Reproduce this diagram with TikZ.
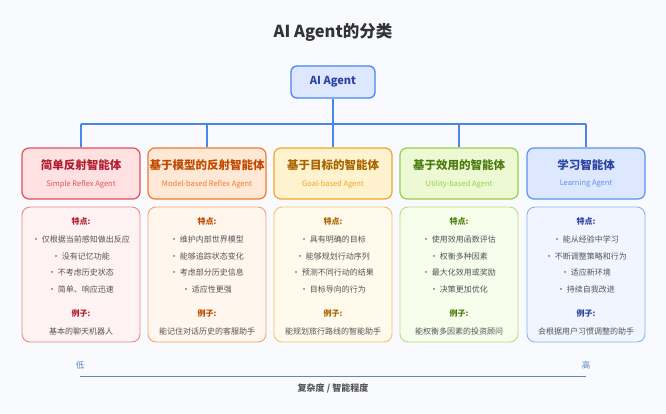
\documentclass[tikz,border=0pt]{standalone}
\usepackage{fontspec}
\setmainfont{Noto Sans CJK SC}
\usetikzlibrary{positioning}
\definecolor{bgc}{HTML}{F8FAFD}
\definecolor{bluel}{HTML}{4A86E8}
\definecolor{txt}{HTML}{555555}
\definecolor{ra}{HTML}{E0505E}\definecolor{rf}{HTML}{FFE1E1}\definecolor{rb}{HTML}{FFF2F2}\definecolor{rt}{HTML}{B01E30}
\definecolor{oa}{HTML}{F07A30}\definecolor{of}{HTML}{FFE8D6}\definecolor{ob}{HTML}{FFF6EE}\definecolor{ot}{HTML}{C04A00}
\definecolor{ya}{HTML}{F2A428}\definecolor{yf}{HTML}{FFF2CF}\definecolor{yb}{HTML}{FFFAEB}\definecolor{yt}{HTML}{A86400}
\definecolor{ga}{HTML}{96D04A}\definecolor{gf}{HTML}{ECF9D2}\definecolor{gb}{HTML}{F6FDEB}\definecolor{gt}{HTML}{4E7E12}
\definecolor{ba}{HTML}{5A92F0}\definecolor{bf}{HTML}{DDE8FF}\definecolor{bb}{HTML}{F0F5FF}\definecolor{bt}{HTML}{2A44A0}
\tikzset{
  head/.style={draw=#1a, fill=#1f, line width=1.2pt, rounded corners=7pt, minimum width=118pt, minimum height=51pt},
  body/.style={draw=#1a!70, fill=#1b, line width=0.9pt, rounded corners=8pt, minimum width=118pt, minimum height=135pt},
  bus/.style={bluel, line width=1.3pt},
  item/.style={txt, font=\fontsize{8}{9}\selectfont}
}
\begin{document}
\begin{tikzpicture}[x=1pt,y=-1pt]
\fill[bgc] (0,0) rectangle (666,413);
\node[font=\fontsize{16.5}{19}\selectfont\bfseries, text=black!80] (title) at (333,32) {AI Agent的分类};
\node[draw=bluel, fill=bf, line width=1.3pt, rounded corners=6pt, minimum width=84pt, minimum height=32pt,
  font=\fontsize{11}{12}\selectfont\bfseries, text=bt] (root) at (333,82) {AI Agent};
\coordinate (hub) at (333,124);
\draw[bus] (root.south) -- (hub);
% columns
\foreach \i/\x/\c/\nm/\en/\a/\b/\cc/\d/\ex in {
  1/81/r/简单反射智能体/Simple Reflex Agent/仅根据当前感知做出反应/没有记忆功能/不考虑历史状态/简单、响应迅速/基本的聊天机器人,
  2/207/o/基于模型的反射智能体/Model-based Reflex Agent/维护内部世界模型/能够追踪状态变化/考虑部分历史信息/适应性更强/能记住对话历史的客服助手,
  3/333/y/基于目标的智能体/Goal-based Agent/具有明确的目标/能够规划行动序列/预测不同行动的结果/目标导向的行为/能规划旅行路线的智能助手,
  4/459/g/基于效用的智能体/Utility-based Agent/使用效用函数评估/权衡多种因素/最大化效用或奖励/决策更加优化/能权衡多因素的投资顾问,
  5/586/b/学习智能体/Learning Agent/能从经验中学习/不断调整策略和行为/适应新环境/持续自我改进/会根据用户习惯调整的助手}{
  \node[head=\c] (h\i) at (\x,173.5) {};
  \node[font=\fontsize{11.5}{13}\selectfont\bfseries, text=\c t] at (\x,165) {\nm};
  \node[font=\fontsize{7.5}{9}\selectfont, text=\c a] at (\x,184) {\en};
  \node[body=\c] (p\i) at (\x,274.5) {};
  \node[font=\fontsize{8}{9}\selectfont\bfseries, text=\c t] at (\x,221) {特点:};
  \node[item] at (\x,239) {· \a};
  \node[item] at (\x,256) {· \b};
  \node[item] at (\x,272) {· \cc};
  \node[item] at (\x,289) {· \d};
  \node[font=\fontsize{8}{9}\selectfont\bfseries, text=\c t] at (\x,313) {例子:};
  \node[item] at (\x,331) {\ex};
  \draw[bus] (\x,124) -- (h\i.north);
}
\draw[bus] (81,124) -- (586,124);
% scale
\node[text=bluel!60!gray, font=\fontsize{8.5}{9}\selectfont] (lo) at (80,365) {低};
\node[text=bluel!60!gray, font=\fontsize{8.5}{9}\selectfont] (hi) at (586,365) {高};
\draw[bluel!50!gray, line width=1pt] (80,376) -- (586,376);
\node[text=txt, font=\fontsize{9}{10}\selectfont\bfseries] (axis) at (333,388) {复杂度 / 智能程度};
\end{tikzpicture}
\end{document}
